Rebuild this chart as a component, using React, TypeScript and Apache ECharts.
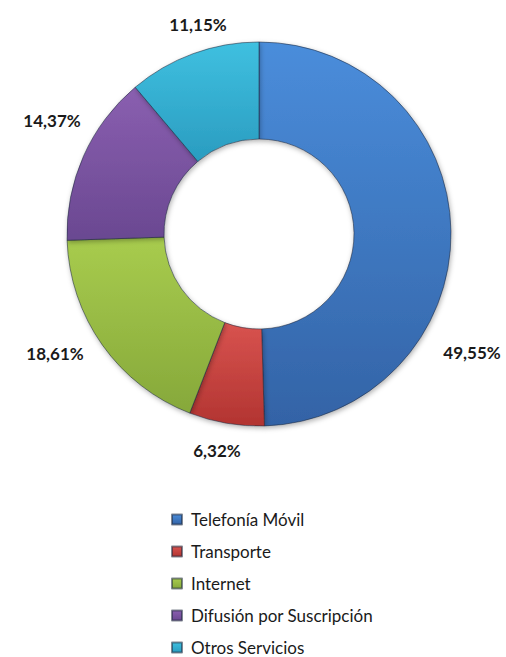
import React, { useEffect, useRef } from "react";
import * as echarts from "echarts";

const categories = [
  "Telefonía Móvil",
  "Transporte",
  "Internet",
  "Difusión por Suscripción",
  "Otros Servicios",
];
const values = [49.55, 6.32, 18.61, 14.37, 11.15];

// top/bottom gradient colours per slice
const colorsTop = ["#4a8ddb", "#d8534f", "#a8cc4e", "#8a5fb0", "#3fc0e0"];
const colorsBottom = ["#3363a6", "#b23431", "#86a83a", "#6a4891", "#2a9cc0"];

// label anchor positions (px) — Excel-style placement
const labelPos: [number, number][] = [
  [472, 352],
  [217, 450],
  [55, 353],
  [52, 120],
  [198, 24],
];

const fmt = (v: number) => v.toFixed(2).replace(".", ",") + "%";

export default function App() {
  const ref = useRef<HTMLDivElement>(null);
  useEffect(() => {
    if (!ref.current) return;
    const chart = echarts.init(ref.current, undefined, { renderer: "svg" });
    const grad = (i: number) =>
      new echarts.graphic.LinearGradient(0, 0, 0, 1, [
        { offset: 0, color: colorsTop[i] },
        { offset: 1, color: colorsBottom[i] },
      ]);
    chart.setOption({
      animation: false,
      backgroundColor: "#ffffff",
      legend: {
        orient: "vertical",
        left: 166,
        top: 506,
        height: 200,
        itemWidth: 10,
        itemHeight: 10,
        itemGap: 15,
        icon: "rect",
        data: categories,
        textStyle: {
          fontFamily: "Lato",
          fontSize: 17,
          color: "#1a1a1a",
          padding: [0, 0, 0, 4],
        },
      },
      series: [
        {
          type: "pie",
          center: [259, 234],
          radius: [95, 192],
          startAngle: 90,
          clockwise: true,
          avoidLabelOverlap: false,
          labelLine: { show: false },
          label: {
            show: true,
            position: "outside",
            formatter: (p: any) => fmt(p.value),
            fontFamily: "Lato",
            fontWeight: "bold",
            fontSize: 17,
            color: "#1a1a1a",
          },
          labelLayout: (p: any) => ({
            x: labelPos[p.dataIndex][0],
            y: labelPos[p.dataIndex][1],
            align: "center",
            verticalAlign: "middle",
          }),
          itemStyle: {
            borderColor: "rgba(30,40,60,0.55)",
            borderWidth: 1,
            shadowBlur: 5,
            shadowColor: "rgba(0,0,0,0.3)",
            shadowOffsetX: 1,
            shadowOffsetY: 2,
          },
          data: categories.map((name, i) => ({
            name,
            value: values[i],
            itemStyle: { color: grad(i) },
          })),
        },
      ],
    });
    return () => chart.dispose();
  }, []);
  return (
    <div
      ref={ref}
      style={{ position: "absolute", left: 0, top: 0, width: 506, height: 657 }}
    />
  );
}
